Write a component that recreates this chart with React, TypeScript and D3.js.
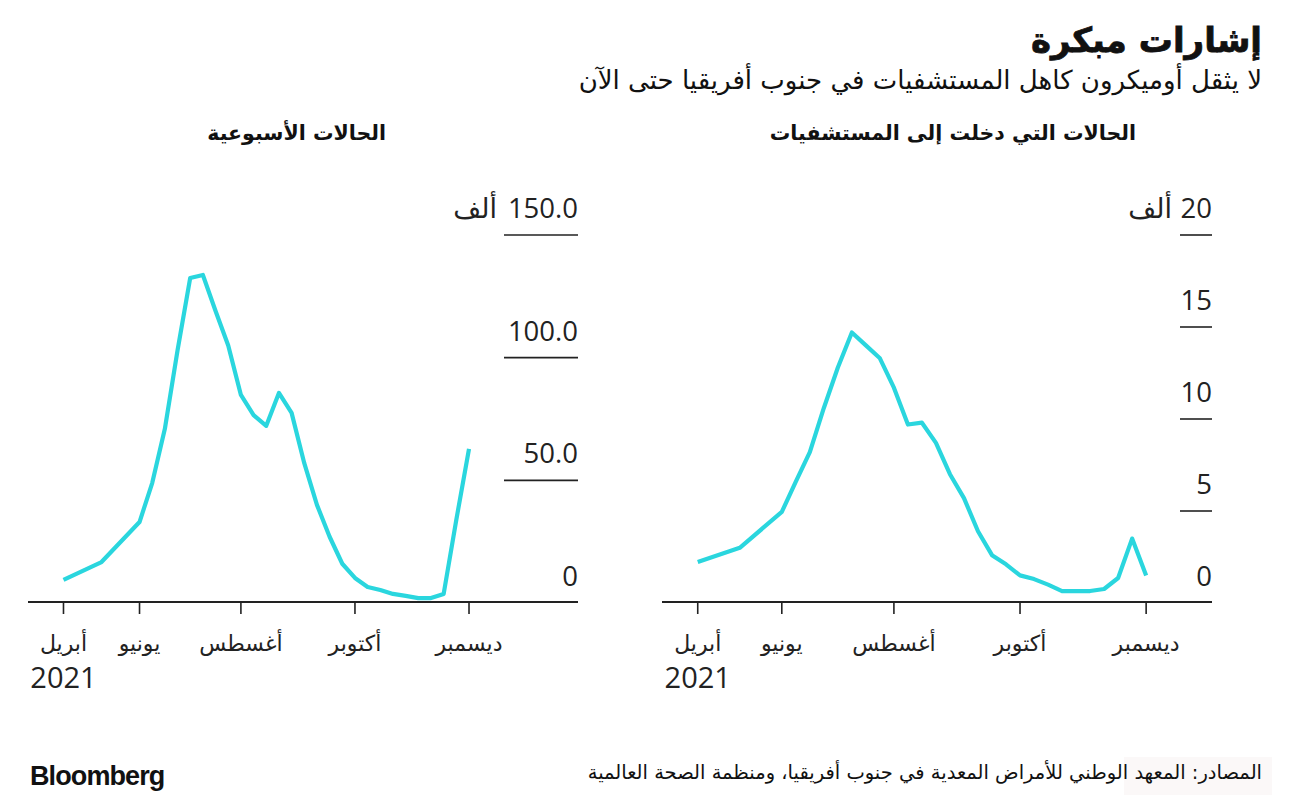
import React from "react";
import * as d3 from "d3";

const title = "إشارات مبكرة";
const subtitle = "لا يثقل أوميكرون كاهل المستشفيات في جنوب أفريقيا حتى الآن";
const source = "المصادر: المعهد الوطني للأمراض المعدية في جنوب أفريقيا، ومنظمة الصحة العالمية";
const unitLabel = "ألف";

const monthLabels = ["أبريل", "يونيو", "أغسطس", "أكتوبر", "ديسمبر"];
const monthTickWeeks = [0, 6, 14, 23, 32];
const yearLabel = "2021";

const casesTitle = "الحالات الأسبوعية";
const casesWeeks = [0, 3, 6, 7, 8, 9, 10, 11, 12, 13, 14, 15, 16, 17, 18, 19, 20, 21, 22, 23, 24, 25, 26, 27, 28, 29, 30, 31, 32];
const casesValues = [9.4, 16.7, 33.0, 48.9, 71.0, 103, 132.5, 133.7, 119, 105, 84.8, 76.6, 72.2, 85.6, 77.5, 57, 40, 27, 16, 10.2, 6.5, 5.3, 3.7, 2.9, 2.0, 2.0, 3.7, 34, 62.8];
const casesTicks = [0, 50, 100, 150];
const casesTickLabels = ["0", "50.0", "100.0", "150.0"];

const hospTitle = "الحالات التي دخلت إلى المستشفيات";
const hospWeeks = [0, 3, 6, 7, 8, 9, 10, 11, 12, 13, 14, 15, 16, 17, 18, 19, 20, 21, 22, 23, 24, 25, 26, 27, 28, 29, 30, 31, 32];
const hospValues = [2.23, 3.0, 4.95, 6.6, 8.2, 10.6, 12.8, 14.7, 14.0, 13.3, 11.7, 9.7, 9.8, 8.7, 7.0, 5.7, 3.9, 2.6, 2.1, 1.5, 1.3, 1.0, 0.65, 0.65, 0.65, 0.76, 1.36, 3.5, 1.5];
const hospTicks = [0, 5, 10, 15, 20];
const hospTickLabels = ["0", "5", "10", "15", "20"];

const LINE = "#2ad6de";
const INK = "#222";
const ARABIC = "'DejaVu Sans', sans-serif";
const NUM = "'Open Sans', 'DejaVu Sans', sans-serif";

type PanelProps = {
  left: number;
  right: number;
  domain: [number, number];
  yMax: number;
  weeks: number[];
  values: number[];
  ticks: number[];
  tickLabels: string[];
  gridLen: number;
  unitRight: number;
  panelTitle: string;
  titleRight: number;
};

function Panel(p: PanelProps) {
  const x = d3.scaleLinear().domain(p.domain).range([p.left, p.right]);
  const y = d3.scaleLinear().domain([0, p.yMax]).range([603, 235]);
  const line = d3
    .line<number>()
    .x((_, i) => x(p.weeks[i]))
    .y((v) => y(v));
  const topTick = p.ticks[p.ticks.length - 1];
  return (
    <g>
      <text x={p.titleRight} y={140} textAnchor="end" fontFamily={ARABIC} fontWeight="bold" fontSize={20.5} fill="#111">
        {p.panelTitle}
      </text>
      {p.ticks.map((t, i) => (
        <g key={t}>
          {t !== 0 && (
            <line x1={p.right - p.gridLen} x2={p.right} y1={y(t)} y2={y(t)} stroke={INK} strokeWidth={1.6} />
          )}
          <text x={p.right} y={y(t) - 17} textAnchor="end" fontFamily={NUM} fontSize={27.5} fill={INK}>
            {p.tickLabels[i]}
          </text>
        </g>
      ))}
      <text x={p.unitRight} y={y(topTick) - 17} textAnchor="end" fontFamily={ARABIC} fontSize={27} fill={INK}>
        {unitLabel}
      </text>
      <path d={line(p.values) || ""} fill="none" stroke={LINE} strokeWidth={4.2} strokeLinejoin="round" />
      <line x1={p.left} x2={p.right} y1={y(0) - 1} y2={y(0) - 1} stroke={INK} strokeWidth={2} />
      {monthTickWeeks.map((w, i) => (
        <g key={w}>
          <line x1={x(w)} x2={x(w)} y1={y(0) - 1} y2={y(0) + 11} stroke={INK} strokeWidth={1.6} />
          <text x={x(w)} y={651} textAnchor="middle" fontFamily={ARABIC} fontSize={22} fill={INK}>
            {monthLabels[i]}
          </text>
        </g>
      ))}
      <text x={x(monthTickWeeks[0])} y={688} textAnchor="middle" fontFamily={NUM} fontSize={29} fill={INK}>
        {yearLabel}
      </text>
    </g>
  );
}

export default function App() {
  return (
    <div style={{ position: "absolute", left: 0, top: 0, background: "#fff" }}>
      <svg width={1296} height={802} style={{ display: "block" }}>
        <rect width={1296} height={802} fill="#fff" />
        <text x={1262} y={52} textAnchor="end" fontFamily={ARABIC} fontWeight="bold" fontSize={34} fill="#111" stroke="#111" strokeWidth={0.8}>
          {title}
        </text>
        <text x={1262} y={89} textAnchor="end" fontFamily={ARABIC} fontSize={26} fill="#111">
          {subtitle}
        </text>
        <Panel
          left={28}
          right={578}
          domain={[-2.8, 40.6]}
          yMax={150}
          weeks={casesWeeks}
          values={casesValues}
          ticks={casesTicks}
          tickLabels={casesTickLabels}
          gridLen={74}
          unitRight={497}
          panelTitle={casesTitle}
          titleRight={386}
        />
        <Panel
          left={662}
          right={1212}
          domain={[-2.55, 36.7]}
          yMax={20}
          weeks={hospWeeks}
          values={hospValues}
          ticks={hospTicks}
          tickLabels={hospTickLabels}
          gridLen={32}
          unitRight={1172}
          panelTitle={hospTitle}
          titleRight={1136}
        />
        <text x={30} y={785} fontFamily="'Liberation Sans', Arial, sans-serif" fontWeight="bold" fontSize={27} letterSpacing={-0.9} fill="#111">
          Bloomberg
        </text>
        <rect x={1124} y={757} width={148} height={38} fill="#fbf8f8" />
        <text x={1262} y={779} textAnchor="end" fontFamily={ARABIC} fontSize={19.5} fill="#111">
          {source}
        </text>
      </svg>
    </div>
  );
}
